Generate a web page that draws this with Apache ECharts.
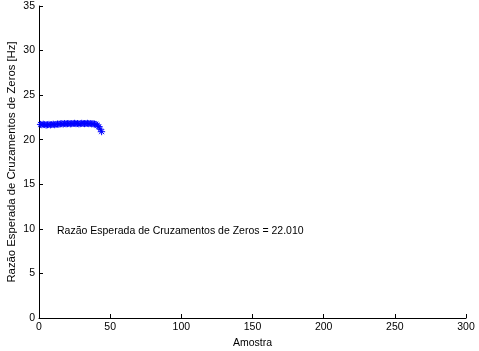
<!DOCTYPE html>
<html><head><meta charset="utf-8">
<script src="https://cdn.jsdelivr.net/npm/echarts@6/dist/echarts.min.js"></script>
<style>html,body{margin:0;padding:0;background:#fff}#c{width:479px;height:351px}</style>
</head><body><div id="c"></div>
<script>
var samples = [1,2,3,4,5,6,7,8,9,10,11,12,13,14,15,16,17,18,19,20,21,22,23,24,25,26,27,28,29,30,31,32,33,34,35,36,37,38,39,40,41,42,43,44];
var rate = [21.72,21.68,21.74,21.70,21.64,21.68,21.72,21.66,21.70,21.74,21.68,21.72,21.76,21.74,21.78,21.80,21.76,21.82,21.78,21.80,21.82,21.78,21.80,21.82,21.84,21.80,21.82,21.78,21.80,21.84,21.82,21.80,21.82,21.84,21.80,21.82,21.78,21.80,21.76,21.72,21.62,21.47,21.18,20.90];
var xTicks = [0,50,100,150,200,250,300];
var annotation = 'Razão Esperada de Cruzamentos de Zeros = 22.010';
var chart = echarts.init(document.getElementById('c'));
var font = 'Liberation Sans, Arial, sans-serif';
chart.setOption({
  animation: false,
  grid: {left: 39, right: 13, top: 6, bottom: 33, containLabel: false, outerBoundsMode: 'none'},
  xAxis: {type: 'value', min: 0, max: 300, interval: 50,
    name: 'Amostra', nameLocation: 'middle', nameGap: 16,
    nameTextStyle: {fontFamily: font, fontSize: 10.5, color: '#000'},
    axisLine: {lineStyle: {color: '#000', width: 1}},
    axisTick: {inside: true, length: 4, lineStyle: {color: '#000'}},
    axisLabel: {fontFamily: font, fontSize: 10.5, color: '#000', margin: 4},
    splitLine: {show: false}},
  yAxis: {type: 'value', min: 0, max: 35, interval: 5,
    name: 'Razão Esperada de Cruzamentos de Zeros [Hz]', nameLocation: 'middle', nameGap: 22,
    nameMoveOverlap: false,
    nameTextStyle: {fontFamily: font, fontSize: 11.3, color: '#000'},
    axisLine: {show: true, lineStyle: {color: '#000', width: 1}},
    axisTick: {show: true, inside: true, length: 4, lineStyle: {color: '#000'}},
    axisLabel: {fontFamily: font, fontSize: 10.5, color: '#000', margin: 4},
    splitLine: {show: false}},
  graphic: [{type: 'text', left: 57, top: 226,
    style: {text: annotation, font: '10.5px ' + font, fill: '#000'}}],
  series: [{
    type: 'custom',
    data: samples.map(function(s, i){ return [s, rate[i]]; }),
    renderItem: function(params, api){
      var p = api.coord([api.value(0), api.value(1)]);
      var r = 3.5, d = r * 0.707;
      var st = {stroke: '#0000ff', lineWidth: 1};
      return {type: 'group', children: [
        {type: 'line', shape: {x1: p[0]-r, y1: p[1], x2: p[0]+r, y2: p[1]}, style: st},
        {type: 'line', shape: {x1: p[0], y1: p[1]-r, x2: p[0], y2: p[1]+r}, style: st},
        {type: 'line', shape: {x1: p[0]-d, y1: p[1]-d, x2: p[0]+d, y2: p[1]+d}, style: st},
        {type: 'line', shape: {x1: p[0]-d, y1: p[1]+d, x2: p[0]+d, y2: p[1]-d}, style: st}
      ]};
    }
  }]
});
</script></body></html>
